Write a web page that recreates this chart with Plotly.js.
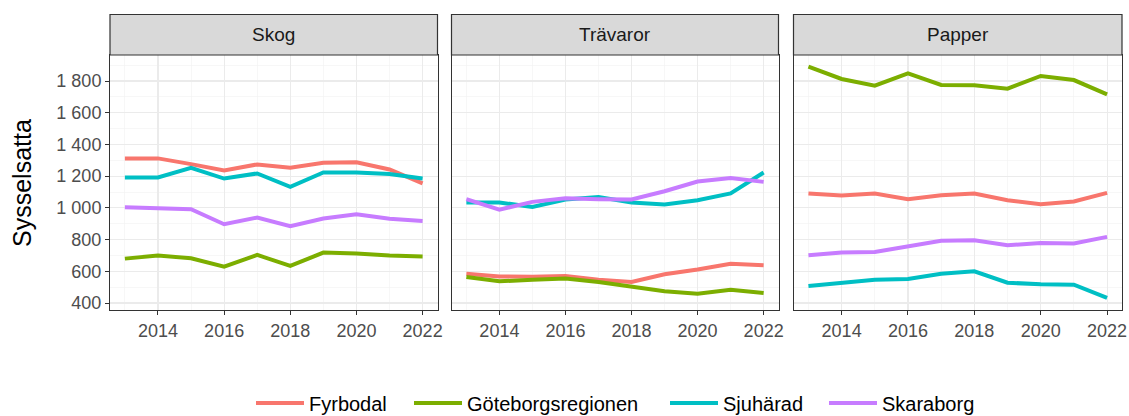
<!DOCTYPE html>
<html>
<head>
<meta charset="utf-8">
<script src="https://cdn.plot.ly/plotly-3.0.1.min.js"></script>
<style>html,body{margin:0;padding:0;background:#fff;}#chart{width:1129px;height:416px;}</style>
</head>
<body>
<div id="chart"></div>
<script>
const years = [2013, 2014, 2015, 2016, 2017, 2018, 2019, 2020, 2021, 2022];
const regions = ["Fyrbodal", "Göteborgsregionen", "Sjuhärad", "Skaraborg"];
const panels = ["Skog", "Trävaror", "Papper"];

const skogFyrbodal = [1312, 1312, 1276, 1236, 1274, 1253, 1284, 1288, 1242, 1154];
const skogGoteborg = [680, 699, 682, 629, 703, 634, 718, 712, 699, 693];
const skogSjuharad = [1192, 1192, 1253, 1185, 1217, 1133, 1223, 1223, 1213, 1185];
const skogSkaraborg = [1004, 998, 992, 897, 939, 884, 933, 960, 931, 918];

const travFyrbodal = [585, 568, 566, 571, 547, 533, 581, 611, 648, 638];
const travGoteborg = [564, 537, 547, 554, 533, 501, 474, 459, 484, 463];
const travSjuharad = [1034, 1034, 1006, 1053, 1069, 1034, 1021, 1048, 1091, 1223];
const travSkaraborg = [1055, 989, 1038, 1061, 1055, 1053, 1105, 1166, 1189, 1164];

const papFyrbodal = [1091, 1078, 1091, 1055, 1080, 1091, 1048, 1023, 1040, 1095];
const papGoteborg = [1891, 1813, 1771, 1848, 1775, 1773, 1752, 1832, 1806, 1716];
const papSjuharad = [507, 526, 547, 551, 585, 600, 528, 518, 516, 432];
const papSkaraborg = [701, 718, 722, 754, 792, 796, 764, 779, 775, 817];

const seriesByPanel = [
  [skogFyrbodal, skogGoteborg, skogSjuharad, skogSkaraborg],
  [travFyrbodal, travGoteborg, travSjuharad, travSkaraborg],
  [papFyrbodal, papGoteborg, papSjuharad, papSkaraborg]
];
const colors = ["#F8766D", "#7CAE00", "#00BFC4", "#C77CFF"];

const W = 1129, H = 416;
const panelPx = [[110, 437.5], [451.5, 778.5], [793.5, 1122]];
const plotTop = 55, plotBottom = 310, stripTop = 14.5;
const legendLinePx = [258, 416, 672, 831];
const px = v => v / W;
const py = v => (H - v) / H;
const legendIds = ["legend", "legend2", "legend3", "legend4"];

const FONT = "Liberation Sans, Arial, sans-serif";
const traces = [];
seriesByPanel.forEach((ser, p) => {
  ser.forEach((vals, r) => {
    traces.push({
      type: "scatter", mode: "lines",
      x: years, y: vals,
      name: regions[r],
      xaxis: p === 0 ? "x" : "x" + (p + 1),
      yaxis: p === 0 ? "y" : "y" + (p + 1),
      line: {color: colors[r], width: 4},
      showlegend: p === 0,
      legend: legendIds[r],
      legendgroup: regions[r],
      hoverinfo: "skip"
    });
  });
});

const layout = {
  width: W, height: H,
  margin: {l: 0, r: 0, t: 0, b: 0, autoexpand: false},
  paper_bgcolor: "#fff", plot_bgcolor: "#fff",
  separators: ". ",
  font: {family: FONT, color: "#4D4D4D", size: 18},
  showlegend: true,
  shapes: [], annotations: []
};
legendIds.forEach((id, r) => {
  layout[id] = {
    orientation: "h", x: px(legendLinePx[r] - 7), xanchor: "left", y: py(403), yanchor: "middle",
    font: {size: 20, color: "#000", family: FONT},
    itemwidth: 48, bgcolor: "rgba(0,0,0,0)", borderwidth: 0
  };
});

const xCommon = {
  range: [2012.55, 2022.45], tick0: 2014, dtick: 2,
  showgrid: true, gridcolor: "#EBEBEB", gridwidth: 1.1,
  minor: {dtick: 1, tick0: 2013, showgrid: true, gridcolor: "#F2F2F2", gridwidth: 0.6, ticks: ""},
  ticks: "outside", ticklen: 4, tickcolor: "#333", tickwidth: 1,
  showline: true, linecolor: "#333", linewidth: 1, mirror: true, automargin: false,
  zeroline: false, tickfont: {size: 18, color: "#4D4D4D"}, fixedrange: true
};
const yCommon = {
  range: [356, 1964], tick0: 0, dtick: 200, tickformat: ",",
  showgrid: true, gridcolor: "#EBEBEB", gridwidth: 1.1,
  minor: {dtick: 100, tick0: 0, showgrid: true, gridcolor: "#F2F2F2", gridwidth: 0.6, ticks: ""},
  showline: true, linecolor: "#333", linewidth: 1, mirror: true, automargin: false,
  zeroline: false, tickfont: {size: 18, color: "#4D4D4D"}, fixedrange: true
};

panels.forEach((name, p) => {
  const xk = p === 0 ? "xaxis" : "xaxis" + (p + 1);
  const yk = p === 0 ? "yaxis" : "yaxis" + (p + 1);
  const yId = p === 0 ? "y" : "y" + (p + 1);
  const xId = p === 0 ? "x" : "x" + (p + 1);
  layout[xk] = Object.assign({}, xCommon, {domain: [px(panelPx[p][0]), px(panelPx[p][1])], anchor: yId});
  layout[yk] = Object.assign({}, yCommon, {
    domain: [py(plotBottom), py(plotTop)], anchor: xId,
    ticks: p === 0 ? "outside" : "", ticklen: 4, tickcolor: "#333", tickwidth: 1,
    showticklabels: p === 0
  });
  layout.shapes.push({
    type: "rect", xref: "paper", yref: "paper",
    x0: px(panelPx[p][0]), x1: px(panelPx[p][1]), y0: py(plotTop), y1: py(stripTop),
    fillcolor: "#D9D9D9", line: {color: "#333", width: 1.2}, layer: "above"
  });
  layout.annotations.push({
    xref: "paper", yref: "paper", x: px((panelPx[p][0] + panelPx[p][1]) / 2), y: py((plotTop + stripTop) / 2),
    text: name, showarrow: false, xanchor: "center", yanchor: "middle",
    font: {size: 19, color: "#1A1A1A", family: FONT}
  });
});

layout.annotations.push({
  xref: "paper", yref: "paper", x: px(22), y: py(183),
  text: "Sysselsatta", showarrow: false, textangle: -90,
  xanchor: "center", yanchor: "middle",
  font: {size: 25, color: "#000", family: FONT}
});

Plotly.newPlot("chart", traces, layout, {displayModeBar: false, staticPlot: true});
</script>
</body>
</html>
